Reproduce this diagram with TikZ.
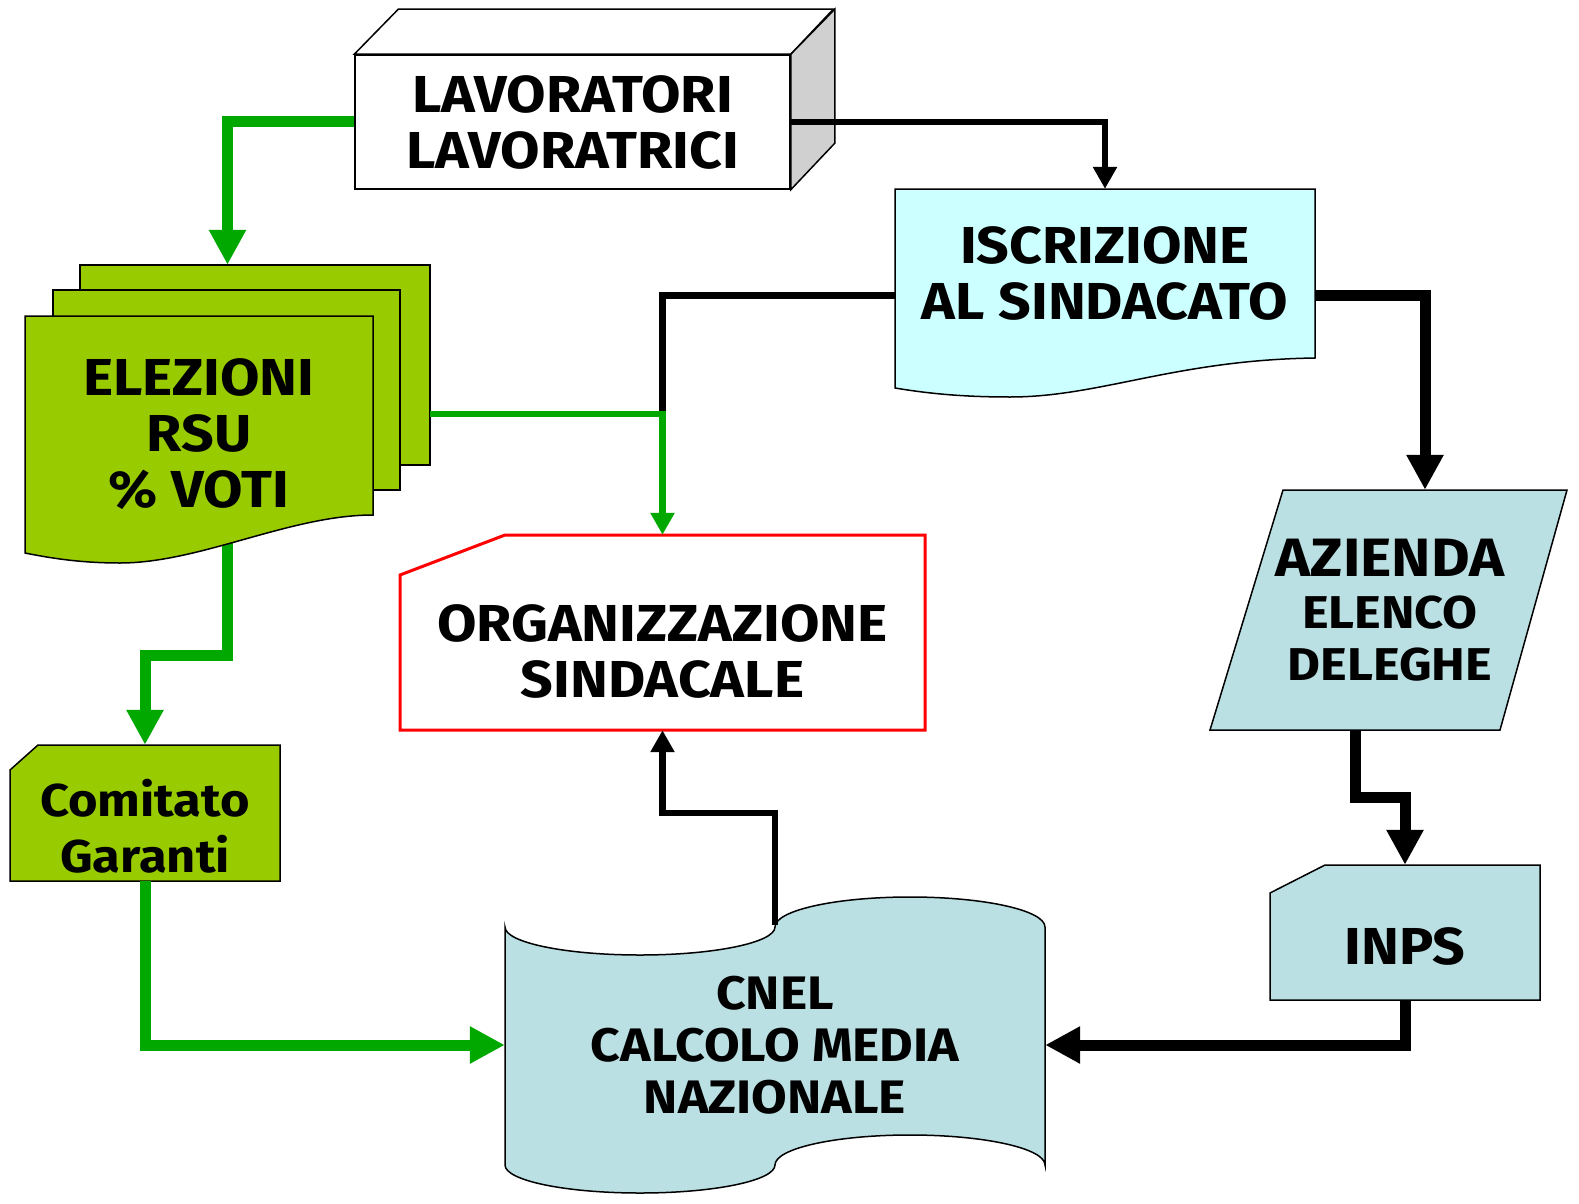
\documentclass[tikz,border=0pt]{standalone}
\usepackage{fontspec}
\setmainfont{Fira Sans}[FakeStretch=1.1]
\usetikzlibrary{arrows.meta,fit,backgrounds}
\definecolor{linegreen}{RGB}{0,168,0}
\definecolor{rsugreen}{RGB}{153,204,0}
\definecolor{iscrcyan}{RGB}{204,255,255}
\definecolor{cnelblue}{RGB}{187,224,227}
\definecolor{sidegray}{RGB}{208,208,208}
\tikzset{
  outline/.style={draw=black,line width=1.5pt},
  boxtext/.style={align=center,inner sep=0pt,font=\bfseries\fontsize{52}{56}\selectfont}
}
\begin{document}
\begin{tikzpicture}[x=1pt,y=-1pt,
		thinarrow/.style={line width=6.5pt,-{Triangle[length=22pt,width=23pt]}},
		thickarrow/.style={line width=11pt,-{Triangle[length=35pt,width=35pt]}}]
	\useasboundingbox (0,0) rectangle (1579,1204);
	% lavoratori
	\node[boxtext,outline,fill=white,minimum width=435pt,minimum height=134pt] (lav) at (572.5,122) {LAVORATORI\\LAVORATRICI};
	\draw[outline,fill=white] (lav.north west) -- ++(44,-45) -- ++(435,0) -- (lav.north east) -- cycle;
	\draw[outline,fill=sidegray] (lav.north east) -- ++(44,-45) -- ++(0,134) -- (lav.south east) -- cycle;
	% iscrizione
	\draw[outline,fill=iscrcyan] (895,189) -- (1315,189) -- (1315,358) .. controls (1175,360) and (1100,397) .. (1010,397) .. controls (960,397) and (925,393) .. (895,388) -- cycle;
	\node[boxtext,minimum width=420pt,minimum height=168pt] (iscr) at (1105,273) {ISCRIZIONE\\AL SINDACATO};
	% elezioni
	\draw[outline,fill=rsugreen] (80,265) rectangle (430,465);
	\draw[outline,fill=rsugreen] (53,290) rectangle (400,490);
	\draw[outline,fill=rsugreen] (25,316) -- (373,316) -- (373,515) .. controls (290,515) and (200,563) .. (120,563) .. controls (80,563) and (50,558) .. (25,553) -- cycle;
	\node[boxtext] (elez) at (199,434) {ELEZIONI\\RSU\\\% VOTI};
	\node[fit={(25,265) (430,563)},inner sep=0pt] (rsu) {};
	% comitato
	\draw[outline,fill=rsugreen] (10,770) -- (38,745) -- (280,745) -- (280,881) -- (10,881) -- cycle;
	\node[boxtext,font=\bfseries\fontsize{46}{56}\selectfont,minimum width=270pt,minimum height=136pt] (comi) at (145,813) {\rule{0pt}{64pt}Comitato\\Garanti};
	% organizzazione
	\draw[line width=3pt,draw=red,fill=white] (400,575) -- (505,535) -- (925,535) -- (925,730) -- (400,730) -- cycle;
	\node[boxtext,minimum width=525pt,minimum height=195pt] (org) at (662.5,632.5) {\rule{0pt}{75pt}ORGANIZZAZIONE\\SINDACALE};
	% azienda
	\draw[outline,fill=cnelblue] (1210,730) -- (1283,490) -- (1567,490) -- (1500,730) -- cycle;
	\node[boxtext,font=\bfseries\fontsize{46}{52}\selectfont,minimum width=290pt,minimum height=240pt] (azi) at (1390,610) {{\fontsize{54}{56}\selectfont AZIENDA}\\ELENCO\\DELEGHE};
	% inps
	\draw[outline,fill=cnelblue] (1270,893) -- (1325,865) -- (1540,865) -- (1540,1000) -- (1270,1000) -- cycle;
	\node[boxtext,minimum width=270pt,minimum height=135pt] (inps) at (1405,932.5) {\rule{0pt}{64pt}INPS};
	% cnel
	\draw[outline,fill=cnelblue] (505,927) .. controls (505,942.5) and (565.4,955) .. (640,955)
		.. controls (714.6,955) and (775,942.5) .. (775,927)
		.. controls (775,910.4) and (835.4,897) .. (910,897)
		.. controls (984.6,897) and (1045,910.4) .. (1045,927) -- (1045,1165)
		.. controls (1045,1148.4) and (984.6,1135) .. (910,1135)
		.. controls (835.4,1135) and (775,1148.4) .. (775,1165)
		.. controls (775,1180.5) and (714.6,1193) .. (640,1193)
		.. controls (565.4,1193) and (505,1180.5) .. (505,1165) -- cycle;
	\node[boxtext,font=\bfseries\fontsize{47}{52}\selectfont,minimum width=540pt,minimum height=240pt] (cnel) at (775,1045) {CNEL\\CALCOLO MEDIA\\NAZIONALE};
	% connectors
	\coordinate (jn) at (rsu.east -| org.north);
	\draw[thickarrow,linegreen] (lav.west) -| (rsu.north);
	\draw[thinarrow] (lav.east) -| (iscr.north);
	\draw[line width=7pt] ([yshift=-22pt]iscr.west) -| (jn);
	\draw[thinarrow,linegreen] (rsu.east) -| (org.north);
	\draw[thickarrow] ([yshift=-22pt]iscr.east) -| ([xshift=35pt]azi.north);
	\draw[thickarrow] ([xshift=-35pt]azi.south) -- ++(0,67) -| (inps.north);
	\draw[thickarrow] (inps.south) |- (cnel.east);
	\draw[thinarrow] (cnel.north) -- ++(0,-112) -| (org.south);
	\draw[thickarrow,linegreen] (comi.south) |- (cnel.west);
	\begin{scope}[on background layer]
		\draw[thickarrow,linegreen] (rsu.center) -- ++(0,241) -| (comi.north);
	\end{scope}
\end{tikzpicture}
\end{document}
